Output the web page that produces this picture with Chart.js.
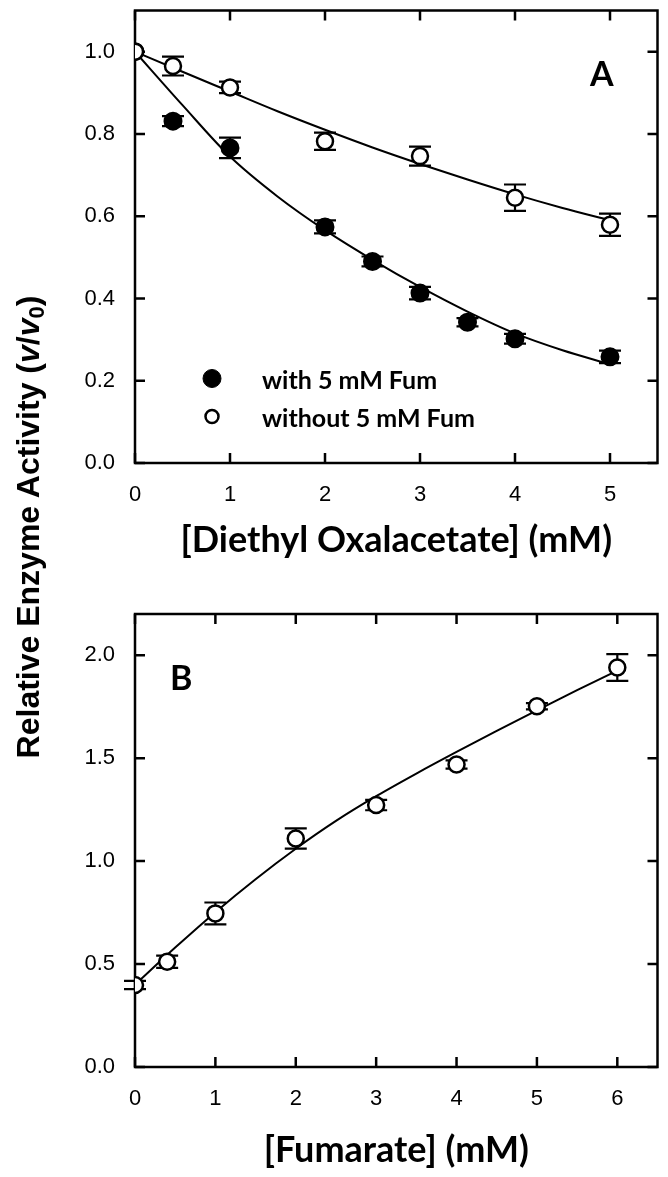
<!DOCTYPE html>
<html>
<head>
<meta charset="utf-8">
<script src="https://cdn.jsdelivr.net/npm/chart.js@4.4.1/dist/chart.umd.min.js"></script>
<style>
  body { margin: 0; background: #fff; }
  #page { position: relative; width: 668px; height: 1177px; overflow: hidden; background: #fff; }
  #canvasA { position: absolute; left: 0; top: 0; }
  #canvasB { position: absolute; left: 0; top: 580px; }
  #yTitle {
    position: absolute; left: -272px; top: 507px; width: 600px; height: 40px;
    line-height: 40px; text-align: center; white-space: nowrap;
    font-family: "Liberation Sans", Arial, sans-serif; font-weight: bold; font-size: 32px;
    transform: rotate(-90deg); transform-origin: 50% 50%; color: #000;
  }
  #yTitle sub { font-size: 22px; vertical-align: -5px; line-height: 0; }
</style>
</head>
<body>
<div id="page">
  <canvas id="canvasA" width="668" height="580"></canvas>
  <canvas id="canvasB" width="668" height="597"></canvas>
  <div id="yTitle">Relative Enzyme Activity (<i>v</i>/<i>v</i><sub>0</sub>)</div>
</div>
<script>
// ---- panel A : diethyl oxalacetate ----
const xTicksA = [0, 1, 2, 3, 4, 5];
const yTicksA = [0, 0.2, 0.4, 0.6, 0.8, 1.0];

const withFumX = [0, 0.4, 1, 2, 2.5, 3, 3.5, 4, 5];
const withFumY = [1.0, 0.831, 0.766, 0.574, 0.49, 0.413, 0.342, 0.302, 0.258];
const withFumErr = [0, 0.012, 0.025, 0.016, 0.012, 0.015, 0.01, 0.012, 0.015];

const withoutFumX = [0, 0.4, 1, 2, 3, 4, 5];
const withoutFumY = [1.0, 0.965, 0.913, 0.782, 0.746, 0.645, 0.579];
const withoutFumErr = [0, 0.023, 0.014, 0.021, 0.023, 0.032, 0.027];

// fitted curves
const fitX_A = [0, 0.5, 1, 1.5, 2, 2.5, 3, 3.5, 4, 4.5, 5];
const fitWithoutY = [1.0, 0.951, 0.903, 0.855, 0.810, 0.767, 0.727, 0.689, 0.653, 0.620, 0.590];
const fitWithY = [1.0, 0.870, 0.745, 0.648, 0.566, 0.494, 0.428, 0.368, 0.315, 0.274, 0.240];

// ---- panel B : fumarate ----
const xTicksB = [0, 1, 2, 3, 4, 5, 6];
const yTicksB = [0, 0.5, 1.0, 1.5, 2.0];

const fumX = [0, 0.4, 1, 2, 3, 4, 5, 6];
const fumY = [0.398, 0.511, 0.746, 1.11, 1.272, 1.469, 1.752, 1.94];
const fumErr = [0.02, 0.03, 0.053, 0.049, 0.025, 0.02, 0.015, 0.065];

const fitX_B = [0, 0.5, 1, 1.5, 2, 2.5, 3, 3.5, 4, 4.5, 5, 5.5, 6];
const fitB_Y = [0.40, 0.58, 0.752, 0.912, 1.06, 1.195, 1.315, 1.425, 1.53, 1.632, 1.732, 1.83, 1.925];

const pts = (xs, ys) => xs.map((x, i) => ({ x: x, y: ys[i] }));

// frame + inward ticks on the four sides
const framePlugin = {
  id: 'frame',
  beforeDatasetsDraw(chart) {
    const { ctx, chartArea: a, scales } = chart;
    ctx.save();
    ctx.strokeStyle = '#000';
    ctx.lineWidth = 2.5;
    ctx.strokeRect(a.left, a.top, a.right - a.left, a.bottom - a.top);
    const tl = 10;
    ctx.beginPath();
    scales.x.ticks.forEach(t => {
      const px = scales.x.getPixelForValue(t.value);
      ctx.moveTo(px, a.bottom); ctx.lineTo(px, a.bottom - tl);
      ctx.moveTo(px, a.top); ctx.lineTo(px, a.top + tl);
    });
    scales.y.ticks.forEach(t => {
      const py = scales.y.getPixelForValue(t.value);
      ctx.moveTo(a.left, py); ctx.lineTo(a.left + tl, py);
      ctx.moveTo(a.right, py); ctx.lineTo(a.right - tl, py);
    });
    ctx.stroke();
    ctx.restore();
  }
};

// vertical error bars drawn just before the markers
const errorBarPlugin = {
  id: 'errorBars',
  beforeDatasetDraw(chart, args) {
    const ds = chart.data.datasets[args.index];
    if (!ds.errors) return;
    const { ctx, scales } = chart;
    ctx.save();
    ctx.strokeStyle = '#000';
    ctx.lineWidth = 2.2;
    ds.data.forEach((p, i) => {
      const e = ds.errors[i];
      if (!e) return;
      const px = scales.x.getPixelForValue(p.x);
      const yt = scales.y.getPixelForValue(p.y + e);
      const yb = scales.y.getPixelForValue(p.y - e);
      ctx.beginPath();
      ctx.moveTo(px, yt); ctx.lineTo(px, yb);
      ctx.moveTo(px - 11, yt); ctx.lineTo(px + 11, yt);
      ctx.moveTo(px - 11, yb); ctx.lineTo(px + 11, yb);
      ctx.stroke();
    });
    ctx.restore();
  }
};

// panel letter and in-plot legend
const notesPlugin = {
  id: 'notes',
  afterDraw(chart, args, opts) {
    const { ctx, chartArea: a } = chart;
    ctx.save();
    ctx.fillStyle = '#000';
    ctx.textBaseline = 'alphabetic';
    (opts.texts || []).forEach(t => {
      ctx.font = t.font;
      ctx.fillText(t.text, a.left + t.dx, a.top + t.dy);
    });
    (opts.markers || []).forEach(m => {
      const ds = chart.data.datasets[m.dataset];
      ctx.beginPath();
      ctx.arc(a.left + m.dx, a.top + m.dy, m.r, 0, Math.PI * 2);
      ctx.fillStyle = ds.backgroundColor;
      ctx.fill();
      ctx.lineWidth = m.lw;
      ctx.strokeStyle = '#000';
      ctx.stroke();
    });
    ctx.restore();
  }
};

function axes(xTicks, yTicks, xMax, yMax, xTitle, titlePad, xHeight) {
  return {
    x: {
      type: 'linear', min: 0, max: xMax,
      afterBuildTicks: s => { s.ticks = xTicks.map(v => ({ value: v })); },
      afterFit: s => { s.height = xHeight; s.paddingLeft = 0; s.paddingRight = 0; },
      grid: { display: false },
      border: { display: false },
      ticks: {
        padding: 11, color: '#000',
        font: { family: '"Liberation Sans", Arial, sans-serif', size: 22 },
        callback: v => String(v)
      },
      title: {
        display: true, text: xTitle, color: '#000',
        font: { family: 'Lato, "Open Sans", sans-serif', size: 36, weight: 'bold' },
        padding: { top: 0, bottom: titlePad }
      }
    },
    y: {
      type: 'linear', min: 0, max: yMax,
      afterBuildTicks: s => { s.ticks = yTicks.map(v => ({ value: v })); },
      afterFit: s => { s.width = 135; s.paddingTop = 0; s.paddingBottom = 0; },
      grid: { display: false },
      border: { display: false },
      ticks: {
        padding: 12, color: '#000',
        font: { family: '"Liberation Sans", Arial, sans-serif', size: 22 },
        callback: v => v.toFixed(1)
      }
    }
  };
}

const lineStyle = { type: 'line', borderColor: '#000', borderWidth: 2, pointRadius: 0, fill: false, tension: 0.4, cubicInterpolationMode: 'monotone', order: 3 };

new Chart(document.getElementById('canvasA'), {
  type: 'scatter',
  data: {
    datasets: [
      Object.assign({ label: 'fit without', data: pts(fitX_A, fitWithoutY) }, lineStyle),
      Object.assign({ label: 'fit with', data: pts(fitX_A, fitWithY) }, lineStyle),
      {
        label: 'with 5 mM Fum', data: pts(withFumX, withFumY), errors: withFumErr,
        backgroundColor: '#000', borderColor: '#000', pointRadius: 8.5, borderWidth: 2, order: 2
      },
      {
        label: 'without 5 mM Fum', data: pts(withoutFumX, withoutFumY), errors: withoutFumErr,
        backgroundColor: '#fff', borderColor: '#000', pointRadius: 8, borderWidth: 2.5, order: 1
      }
    ]
  },
  options: {
    responsive: false, animation: false,
    layout: { padding: { left: 0, right: 10, top: 9, bottom: 0 } },
    scales: axes(xTicksA, yTicksA, 5.5, 1.1, '[Diethyl Oxalacetate] (mM)', 18, 117),
    plugins: {
      legend: { display: false },
      tooltip: { enabled: false },
      notes: {
        texts: [
          { text: 'A', dx: 455, dy: 75, font: 'bold 34px Lato, "Open Sans", sans-serif' },
          { text: 'with 5 mM Fum', dx: 127, dy: 378, font: 'bold 25px Lato, "Open Sans", sans-serif' },
          { text: 'without 5 mM Fum', dx: 127, dy: 416, font: 'bold 25px Lato, "Open Sans", sans-serif' }
        ],
        markers: [
          { dataset: 2, dx: 77, dy: 368, r: 9, lw: 1 },
          { dataset: 3, dx: 77, dy: 406, r: 6.5, lw: 2.5 }
        ]
      }
    }
  },
  plugins: [framePlugin, errorBarPlugin, notesPlugin]
});

new Chart(document.getElementById('canvasB'), {
  type: 'scatter',
  data: {
    datasets: [
      Object.assign({ label: 'fit', data: pts(fitX_B, fitB_Y) }, lineStyle),
      {
        label: 'Fumarate', data: pts(fumX, fumY), errors: fumErr,
        backgroundColor: '#fff', borderColor: '#000', pointRadius: 8, borderWidth: 2.5, order: 1
      }
    ]
  },
  options: {
    responsive: false, animation: false,
    layout: { padding: { left: 0, right: 10, top: 34, bottom: 0 } },
    scales: axes(xTicksB, yTicksB, 6.5, 2.2, '[Fumarate] (mM)', 5, 110),
    plugins: {
      legend: { display: false },
      tooltip: { enabled: false },
      notes: {
        texts: [
          { text: 'B', dx: 35, dy: 76, font: 'bold 34px Lato, "Open Sans", sans-serif' }
        ]
      }
    }
  },
  plugins: [framePlugin, errorBarPlugin, notesPlugin]
});
</script>
</body>
</html>
